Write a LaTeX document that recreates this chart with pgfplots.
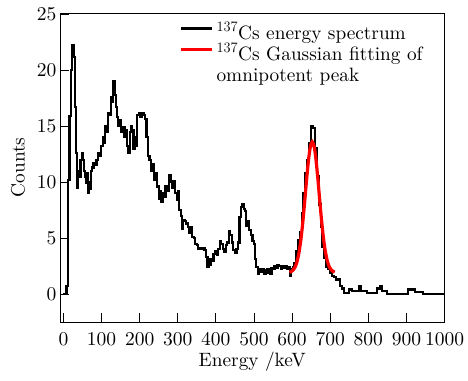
\documentclass[border=0pt]{standalone}
\usepackage{fontspec}
\setmainfont{lmroman10-regular}[Extension=.otf]
\usepackage{pgfplots}
\pgfplotsset{compat=1.18}
\pgfplotstableread{
x y
0 0
7 0
8 0.7
11 3.2
13 10.2
16 15.9
20 20.0
23 22.2
27 21.2
30 16.7
33 12.6
35 11.0
37 9.5
39 10.8
42 10.5
45 12.0
48 12.6
51 12.0
54 11.0
57 10.5
59 9.9
62 10.8
65 9.0
68 10.0
70 9.4
73 11.0
76 11.3
79 11.7
83 11.5
87 12.0
91 12.6
95 12.3
99 13.2
103 14.0
107 13.5
110 15.0
114 14.5
118 16.2
122 16.0
125 17.6
129 17.2
131 19.0
134 17.8
137 16.7
140 15.8
144 15.0
148 15.5
152 14.5
156 14.9
160 14.0
163 14.6
166 13.2
170 12.6
174 14.5
177 15.0
180 14.6
184 13.0
188 14.0
191 13.2
194 16.0
198 16.2
202 15.8
206 16.2
210 16.0
214 15.6
218 14.0
222 12.3
226 12.0
230 11.0
234 11.6
238 10.2
242 10.8
246 9.6
250 8.5
253 9.2
256 8.2
260 9.0
264 8.7
268 9.6
272 9.2
277 10.6
281 10.0
285 9.5
289 10.1
293 9.0
297 8.4
300 9.2
304 7.5
308 7.0
311 5.8
314 6.6
318 6.5
322 6.3
326 6.0
330 5.5
334 6.0
338 5.1
342 5.0
346 4.5
350 4.4
354 4.0
358 4.1
362 4.0
366 4.1
370 3.9
374 3.3
378 2.4
382 2.6
386 3.1
390 3.0
394 3.6
398 3.8
402 3.5
406 4.0
410 4.7
414 4.5
418 4.0
422 3.8
426 4.4
430 4.6
434 5.6
438 5.3
442 4.6
446 3.9
450 3.7
454 4.0
458 4.6
462 6.9
466 7.8
470 8.0
474 7.6
477 7.4
480 6.1
484 6.5
488 5.7
492 5.3
496 4.7
500 4.5
503 3.1
506 2.4
510 1.8
514 2.2
518 2.0
522 2.2
526 1.8
530 2.1
534 2.2
538 1.9
542 1.8
546 2.3
550 2.2
554 2.5
558 2.3
562 2.6
566 2.5
570 2.2
574 2.5
578 2.3
582 2.5
586 2.2
590 2.4
594 1.6
598 2.2
602 2.4
605 2.8
610 3.8
615 4.8
620 5.5
625 7.2
630 9.0
635 10.8
640 12.0
645 13.5
650 15.0
655 14.8
660 13.0
665 10.5
670 8.0
675 6.0
680 4.2
685 3.2
690 2.4
695 2.2
700 1.9
705 1.6
710 1.5
715 1.3
720 1.3
725 0.7
730 0.5
736 0.1
749 0.4
758 0.3
775 0.7
780 0.3
797 0.1
823 0.5
830 0.7
836 0.3
849 0.0
905 0.4
922 0.2
944 0.0
1000 0.0
}\spectrum
\pgfplotstableread{
x y
593 1.95
598 2.01
603 2.15
608 2.41
613 2.89
618 3.67
623 4.82
628 6.36
633 8.21
638 10.17
643 11.93
648 13.16
653 13.6
658 13.16
663 11.93
668 10.17
673 8.21
678 6.36
683 4.82
688 3.67
693 2.89
698 2.41
703 2.15
708 2.01
712 1.97
}\gaussfit
\begin{document}
\begin{tikzpicture}
\begin{axis}[
  at={(0pt,0pt)}, anchor=south west,
  scale only axis, width=384.5pt, height=309pt,
  xmin=-9, xmax=1000, ymin=-2.5, ymax=25.1,
  xtick={0,100,...,1000}, ytick={0,5,...,25},
  /pgf/number format/1000 sep={},
  /pgf/number format/assume math mode=true,
  tick align=inside, xtick pos=bottom, ytick pos=left,
  major tick length=9pt,
  tick style={line width=0.8pt, black},
  axis line style={line width=0.8pt},
  tick label style={font=\fontsize{19.5}{22}\selectfont},
  xticklabel style={yshift=-7pt},
  label style={font=\fontsize{19.3}{22}\selectfont},
  xlabel style={yshift=1pt},
  ylabel style={yshift=5pt},
  xlabel={Energy /keV}, ylabel={Counts},
  legend style={at={(0.31,0.965)}, anchor=north west, draw=none, fill=none,
    font=\fontsize{19.3}{22}\selectfont, row sep=0pt, inner sep=0pt,
    nodes={inner xsep=3pt, inner ysep=0pt, text height=15pt, text depth=6pt}},
  legend cell align=left,
  legend image code/.code={\draw[#1] (0pt,6pt) -- (31pt,6pt);},
]
\addplot[const plot, black, line width=2.2pt] table[x=x,y=y] {\spectrum};
\addlegendentry{$^{137}$Cs energy spectrum}
\addplot[red, line width=3.2pt, smooth] table[x=x,y=y] {\gaussfit};
\addlegendentry{$^{137}$Cs Gaussian fitting of}
\addlegendimage{empty legend}
\addlegendentry{omnipotent peak}
\end{axis}
\pgfresetboundingbox
\useasboundingbox (-60pt,-58pt) rectangle (408pt,322pt);
\end{tikzpicture}
\end{document}
